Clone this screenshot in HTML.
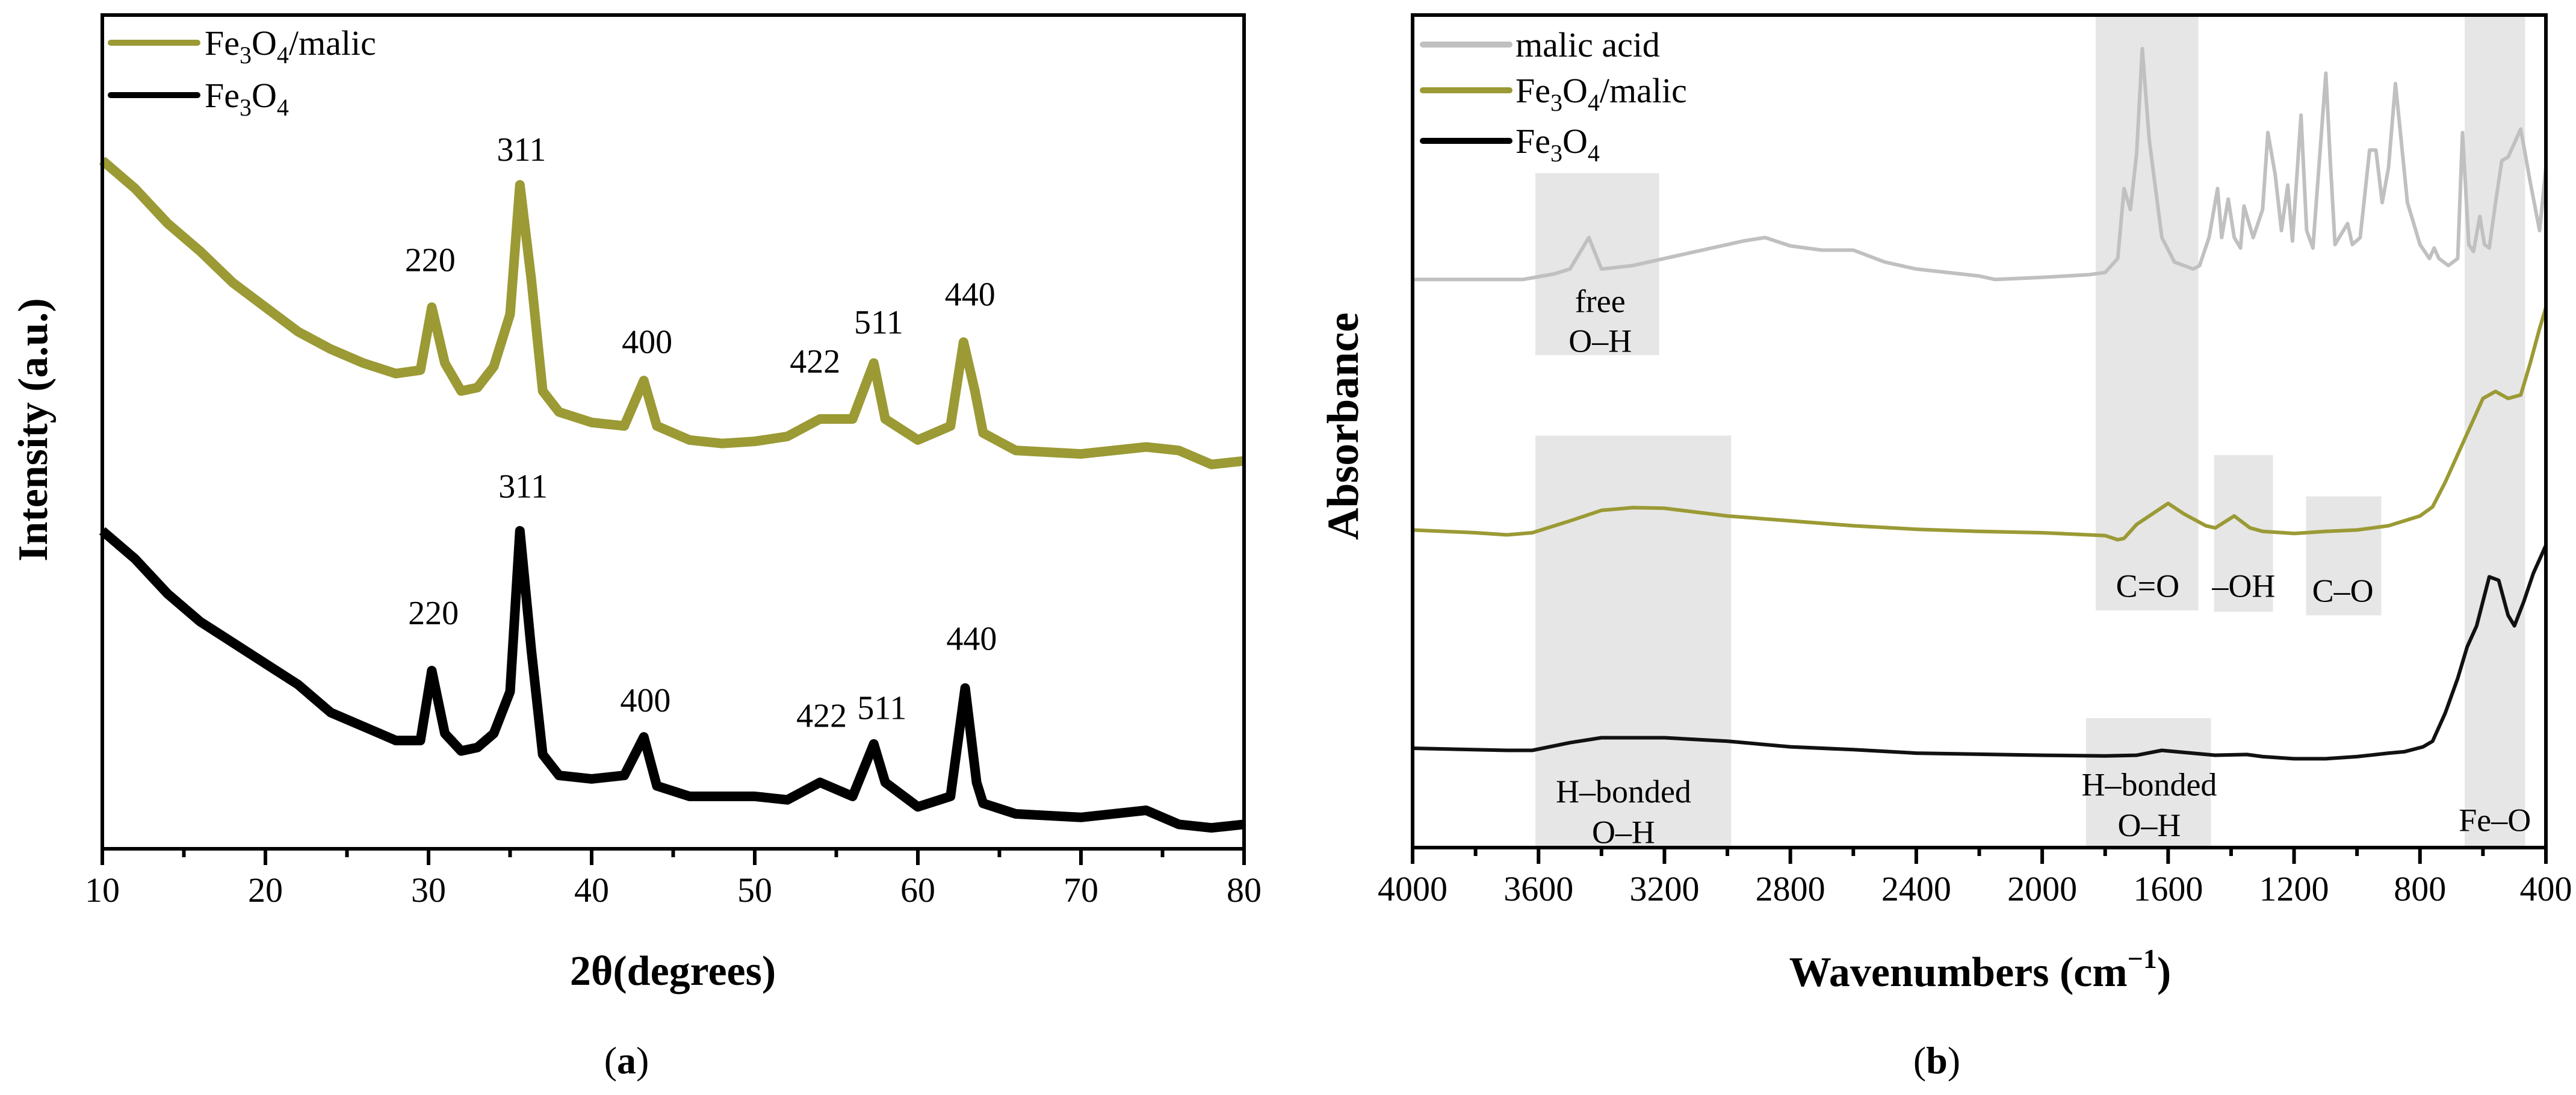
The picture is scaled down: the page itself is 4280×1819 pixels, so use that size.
<!DOCTYPE html>
<html><head><meta charset="utf-8"><style>
html,body{margin:0;padding:0;background:#fff;}
svg{display:block;}
text{font-family:"Liberation Serif","DejaVu Serif",serif;}
</style></head><body>
<svg id="fig" width="4280" height="1819" viewBox="0 0 4280 1819" xmlns="http://www.w3.org/2000/svg" font-family="'Liberation Serif', 'DejaVu Serif', serif"></svg>
<script>
// ---------- Panel (a) XRD data ----------
const xrdTheta = [10,12,14,16,18,20,22,24,26,28,29.5,30.2,31,32,33,34,35,35.6,36.3,37,38,40,42,43.2,44,46,48,50,52,54,56,57.3,58,60,62,62.8,63.5,64,66,70,74,76,78,80];
const xrdMalic = [985,945,895,855,810,775,740,715,695,680,685,775,695,655,660,690,765,950,815,655,625,610,605,670,605,585,580,583,590,615,615,695,615,585,605,725,655,595,570,565,575,570,550,555];
const xrdThetaB = [10,12,14,16,18,20,22,24,26,28,29.5,30.2,31,32,33,34,35,35.6,36.3,37,38,40,42,43.2,44,46,48,50,52,54,56,57.3,58,60,62,62.9,63.6,64,66,70,74,76,78,80];
const xrdBare = [455,415,365,325,295,265,235,195,175,155,155,255,165,140,145,165,225,455,285,135,105,100,105,160,90,75,75,75,70,95,75,150,95,60,75,230,95,65,50,45,55,35,30,35];
const xrdTicks = [10,20,30,40,50,60,70,80];
const peakNames = ["220","311","400","422","511","440"];
const peakThetaMalic = [30.1,35.7,43.4,53.7,57.6,63.2];
const peakIMalic = [842,1000,725,697,753,793];
const peakThetaBare = [30.3,35.8,43.3,54.1,57.8,63.3];
const peakIBare = [337,518,212,190,201,300];

// ---------- Panel (b) FTIR data ----------
const wnMalicAcid = [4000,3650,3550,3500,3440,3400,3300,3100,2950,2880,2800,2700,2600,2500,2400,2200,2150,2000,1850,1800,1760,1740,1720,1700,1682,1660,1620,1580,1520,1500,1470,1443,1430,1409,1390,1370,1359,1330,1300,1283,1260,1240,1220,1205,1178,1160,1140,1099,1085,1070,1030,1015,990,960,940,920,900,878,860,840,800,770,755,740,710,680,665,645,630,610,595,580,560,540,520,480,450,420,400];
const absMalicAcid = [812,812,820,827,872,827,832,852,867,872,860,854,854,837,827,817,812,815,819,822,842,942,912,992,1142,1012,872,837,827,832,872,942,872,927,872,857,917,872,912,1022,962,882,947,867,1047,882,857,1107,982,862,892,862,872,997,997,922,972,1092,1012,922,862,842,857,842,832,842,1022,862,852,902,862,857,922,982,987,1027,952,882,972];
const wnComposite = [4000,3800,3700,3620,3500,3400,3300,3200,3000,2800,2600,2400,2200,2000,1800,1760,1740,1700,1600,1550,1480,1450,1390,1340,1300,1200,1100,1000,900,800,760,720,680,640,600,560,520,480,450,420,400];
const absComposite = [454,450,447,450,467,482,486,485,474,467,460,455,452,450,446,440,442,462,492,477,460,457,474,457,452,449,452,454,460,474,487,522,562,602,642,652,642,647,692,742,772];
const wnBare = [4000,3700,3620,3500,3400,3200,3000,2800,2600,2400,2000,1800,1700,1620,1550,1450,1350,1300,1200,1100,1000,900,850,790,760,720,680,650,620,580,550,520,500,470,440,400];
const absBare = [142,139,139,150,157,157,152,144,140,135,132,131,132,139,136,132,133,130,127,127,130,135,137,144,152,192,242,287,317,387,382,332,317,352,392,432];
const ftirTicks = [4000,3600,3200,2800,2400,2000,1600,1200,800,400];
const bandNames = ["free-oh-band","c-o-double-band","fe-o-band","h-bonded-oh-band","oh-band","c-o-band","h-bonded-oh-low-band"];
const bandWnHigh = [3610,1830,658,3610,1454,1162,1861];
const bandWnLow = [3217,1504,466,2988,1267,923,1464];
const bandTop = [964,1190,1190,589,561,502,185];
const bandBottom = [704,339,0,0,337,332,0];
const bandLabels = ["free","O–H","C=O","–OH","C–O","H–bonded","O–H","H–bonded","O–H","Fe–O"];
const bandLabelWn = [3404,3404,1665,1360,1045,3330,3330,1660,1660,562];
const bandLabelAbs = [781,724,374,374,367,80,22,90,32,39];

const NS = "http://www.w3.org/2000/svg";
const svg = document.getElementById('fig');
const FF = "'Liberation Serif', 'DejaVu Serif', serif";
function el(tag, attrs, parent){const e=document.createElementNS(NS,tag);for(const k in attrs)e.setAttribute(k,attrs[k]);if(tag==='text')e.setAttribute('font-family',FF);(parent||svg).appendChild(e);return e;}

const A = {x0:170,x1:2067,y0:1410,y1:25};
const ax = t => A.x0 + (t-10)/(80-10)*(A.x1-A.x0);
const ay = v => A.y0 - v/1193*(A.y0-A.y1);
const B = {x0:2347,x1:4230,y0:1408,y1:25};
const bx = w => B.x0 + (4000-w)/(4000-400)*(B.x1-B.x0);
const by = v => B.y0 - v/1190*(B.y0-B.y1);

function pathFrom(xs, ys, fx, fy){return xs.map((x,i)=>(i?'L':'M')+fx(x).toFixed(1)+' '+fy(ys[i]).toFixed(1)).join(' ');}

// ===== Panel a =====
let p = el('path',{d:pathFrom(xrdTheta,xrdMalic,ax,ay),fill:'none',stroke:'#9b9a35','stroke-width':16,'stroke-linejoin':'round'});


p = el('path',{d:pathFrom(xrdThetaB,xrdBare,ax,ay),fill:'none',stroke:'#000','stroke-width':16,'stroke-linejoin':'round'});


peakNames.forEach((n,i)=>{
  let t = el('text',{x:ax(peakThetaMalic[i]),y:ay(peakIMalic[i]),'font-size':56,'text-anchor':'middle','dominant-baseline':'central'});
  t.textContent=n;
  
  
  t = el('text',{x:ax(peakThetaBare[i]),y:ay(peakIBare[i]),'font-size':56,'text-anchor':'middle','dominant-baseline':'central'});
  t.textContent=n;
  
  
});
let fr = el('rect',{x:A.x0,y:A.y1,width:A.x1-A.x0,height:A.y0-A.y1,fill:'none',stroke:'#000','stroke-width':6});


xrdTicks.forEach(t=>{
  let l = el('line',{x1:ax(t),x2:ax(t),y1:A.y0,y2:A.y0+27,stroke:'#000','stroke-width':6});
  
  
  if(t<80){l = el('line',{x1:ax(t+5),x2:ax(t+5),y1:A.y0,y2:A.y0+14,stroke:'#000','stroke-width':6});
  
  }
  let tx = el('text',{x:ax(t),y:A.y0+88,'font-size':58,'text-anchor':'middle'});
  tx.textContent=t;
  
  
});
let lg = el('line',{x1:184,x2:328,y1:71,y2:71,stroke:'#9b9a35','stroke-width':10,'stroke-linecap':'round'});


lg = el('line',{x1:184,x2:328,y1:158,y2:158,stroke:'#000','stroke-width':10,'stroke-linecap':'round'});



function addHTMLText(markup, attrs, name){
  const t = el('text', attrs);
  t.innerHTML = markup;
  
  
  return t;
}
addHTMLText('Fe<tspan font-size="40" dy="14">3</tspan><tspan dy="-14">O</tspan><tspan font-size="40" dy="14">4</tspan><tspan dy="-14">/malic</tspan>',{x:340,y:91,'font-size':58},'legend-label-fe3o4-malic');
addHTMLText('Fe<tspan font-size="40" dy="14">3</tspan><tspan dy="-14">O</tspan><tspan font-size="40" dy="14">4</tspan>',{x:340,y:178,'font-size':58},'legend-label-fe3o4');
addHTMLText('Intensity (a.u.)',{x:0,y:0,'font-size':70,'font-weight':'bold','text-anchor':'middle',transform:'translate(78,714) rotate(-90)'},'y-axis-title-a');
addHTMLText('2θ(degrees)',{x:1118,y:1636,'font-size':70,'font-weight':'bold','text-anchor':'middle'},'x-axis-title-a');
addHTMLText('(<tspan font-weight="bold">a</tspan>)',{x:1041,y:1783,'font-size':64,'text-anchor':'middle'},'panel-label-a');

// ===== Panel b =====
bandNames.forEach((n,i)=>{
  const r = el('rect',{x:bx(bandWnHigh[i]),y:by(bandTop[i]),width:bx(bandWnLow[i])-bx(bandWnHigh[i]),height:by(bandBottom[i])-by(bandTop[i]),fill:'#e6e6e6'});
  
  
});
bandLabels.forEach((s,i)=>{
  const t = el('text',{x:bx(bandLabelWn[i]),y:by(bandLabelAbs[i]),'font-size':54,'text-anchor':'middle','dominant-baseline':'central'});
  t.textContent=s;
  
  
});
let q = el('path',{d:pathFrom(wnMalicAcid,absMalicAcid,bx,by),fill:'none',stroke:'#c0c0c0','stroke-width':6,'stroke-linejoin':'round'});


q = el('path',{d:pathFrom(wnComposite,absComposite,bx,by),fill:'none',stroke:'#9b9a35','stroke-width':6,'stroke-linejoin':'round'});


q = el('path',{d:pathFrom(wnBare,absBare,bx,by),fill:'none',stroke:'#111','stroke-width':6,'stroke-linejoin':'round'});


let frb = el('rect',{x:B.x0,y:B.y1,width:B.x1-B.x0,height:B.y0-B.y1,fill:'none',stroke:'#000','stroke-width':6});


ftirTicks.forEach(w=>{
  let l = el('line',{x1:bx(w),x2:bx(w),y1:B.y0,y2:B.y0+27,stroke:'#000','stroke-width':6});
  
  
  if(w>400){l = el('line',{x1:bx(w-200),x2:bx(w-200),y1:B.y0,y2:B.y0+14,stroke:'#000','stroke-width':6});
  
  }
  const t = el('text',{x:bx(w),y:B.y0+88,'font-size':58,'text-anchor':'middle'});
  t.textContent=w;
  
  
});
const legCols=['#c0c0c0','#9b9a35','#000'];
const legY=[74,150,234];
legCols.forEach((c,i)=>{
  const l = el('line',{x1:2364,x2:2508,y1:legY[i],y2:legY[i],stroke:c,'stroke-width':10,'stroke-linecap':'round'});
  
  
});
addHTMLText('malic acid',{x:2518,y:94,'font-size':58},'legend-label-malic-acid');
addHTMLText('Fe<tspan font-size="40" dy="14">3</tspan><tspan dy="-14">O</tspan><tspan font-size="40" dy="14">4</tspan><tspan dy="-14">/malic</tspan>',{x:2518,y:170,'font-size':58},'legend-label-b-fe3o4-malic');
addHTMLText('Fe<tspan font-size="40" dy="14">3</tspan><tspan dy="-14">O</tspan><tspan font-size="40" dy="14">4</tspan>',{x:2518,y:254,'font-size':58},'legend-label-b-fe3o4');
addHTMLText('Absorbance',{x:0,y:0,'font-size':74,'font-weight':'bold','text-anchor':'middle',transform:'translate(2256,708) rotate(-90)'},'y-axis-title-b');
addHTMLText('Wavenumbers (cm<tspan font-size="46" dy="-30">−1</tspan><tspan dy="30">)</tspan>',{x:3290,y:1638,'font-size':70,'font-weight':'bold','text-anchor':'middle'},'x-axis-title-b');
addHTMLText('(<tspan font-weight="bold">b</tspan>)',{x:3218,y:1783,'font-size':64,'text-anchor':'middle'},'panel-label-b');
</script>
</body></html>
